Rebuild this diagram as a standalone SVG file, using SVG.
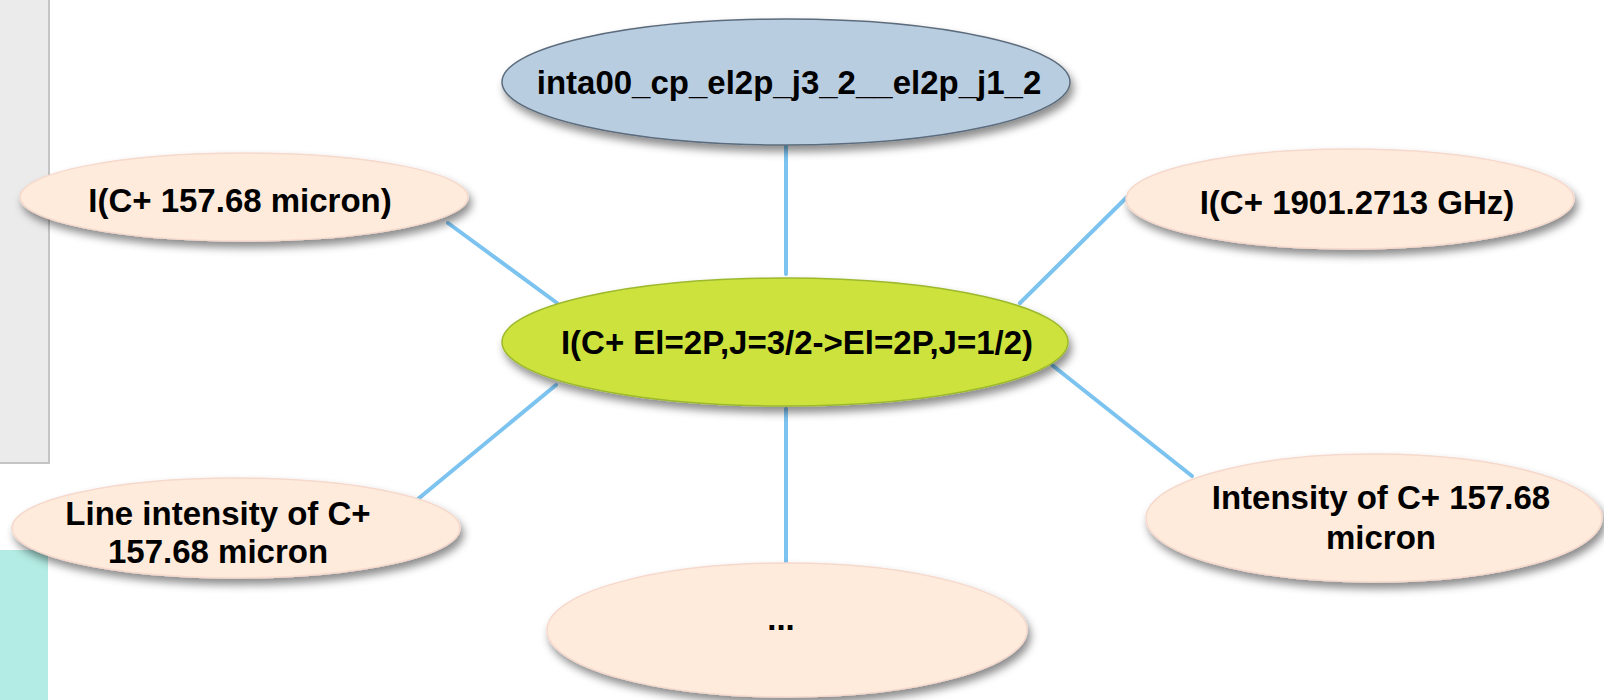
<svg xmlns="http://www.w3.org/2000/svg" width="1604" height="700" viewBox="0 0 1604 700">
<defs>
<filter id="sh" x="-10%" y="-20%" width="125%" height="150%">
<feDropShadow dx="3" dy="6" stdDeviation="4" flood-color="#000" flood-opacity="0.45"/>
</filter>
</defs>
<style>
.lbl{font-family:"Liberation Sans",Arial,sans-serif;font-weight:bold;font-size:33px;fill:#000;text-anchor:middle;dominant-baseline:central}
.peach{fill:#feebdc;stroke:#f6d9cc;stroke-width:1.5}
.conn line{stroke:#7cc3f0;stroke-width:4;stroke-linecap:round}
</style>
<rect x="-2" y="-2" width="51" height="465" fill="#ebebeb" stroke="#c4c4c4" stroke-width="2"/>
<rect x="0" y="550" width="48" height="150" fill="#b3ece4"/>
<g class="conn" id="connectors">
<line x1="786" y1="145" x2="786" y2="274"/>
<line x1="448" y1="223" x2="557" y2="303"/>
<line x1="1127" y1="197" x2="1020" y2="303"/>
<line x1="556" y1="385" x2="418" y2="499"/>
<line x1="1052" y1="365" x2="1192" y2="476"/>
<line x1="786" y1="409" x2="786" y2="562"/>
</g>
<g id="top">
<ellipse cx="786" cy="82" rx="284" ry="63" fill="#b9cde0" stroke="#5c6c7c" stroke-width="1.5" filter="url(#sh)"/>
<text class="lbl" x="789" y="82">inta00_cp_el2p_j3_2__el2p_j1_2</text>
</g>
<g id="center">
<ellipse cx="785" cy="342" rx="283" ry="64" fill="#cde23c" stroke="#9cb92e" stroke-width="1.5" filter="url(#sh)"/>
<text class="lbl" x="797" y="342">I(C+ El=2P,J=3/2-&gt;El=2P,J=1/2)</text>
</g>
<g id="n_left_top">
<ellipse class="peach" cx="244" cy="197" rx="224" ry="44" filter="url(#sh)"/>
<text class="lbl" x="240" y="200">I(C+ 157.68 micron)</text>
</g>
<g id="n_right_top">
<ellipse class="peach" cx="1350" cy="199" rx="224" ry="50" filter="url(#sh)"/>
<text class="lbl" x="1357" y="202">I(C+ 1901.2713 GHz)</text>
</g>
<g id="n_left_bottom">
<ellipse class="peach" cx="236" cy="528" rx="224" ry="50" filter="url(#sh)"/>
<text class="lbl" x="218" y="513">Line intensity of C+</text>
<text class="lbl" x="218" y="551">157.68 micron</text>
</g>
<g id="n_right_bottom">
<ellipse class="peach" cx="1374" cy="518" rx="228" ry="64" filter="url(#sh)"/>
<text class="lbl" x="1381" y="497">Intensity of C+ 157.68</text>
<text class="lbl" x="1381" y="537">micron</text>
</g>
<g id="n_bottom">
<ellipse class="peach" cx="787" cy="630" rx="240" ry="67" filter="url(#sh)"/>
<text class="lbl" x="781" y="618">...</text>
</g>
</svg>
